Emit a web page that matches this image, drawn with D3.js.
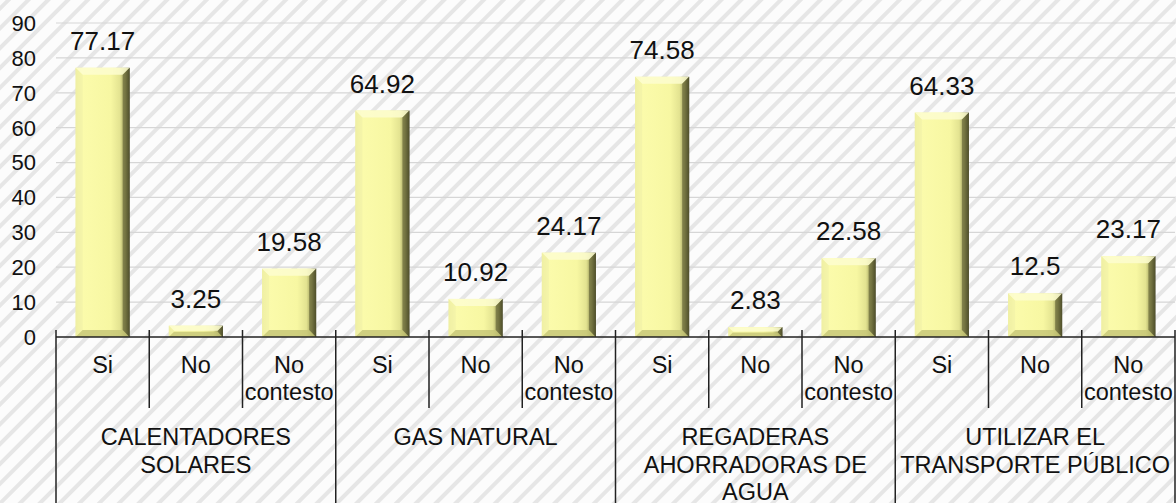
<!DOCTYPE html>
<html>
<head>
<meta charset="utf-8">
<script src="https://cdn.jsdelivr.net/npm/d3@7"></script>
<style>
  body { margin: 0; background: #fff; }
  svg { display: block; font-family: Arial, "Liberation Sans", sans-serif; }
</style>
</head>
<body>
<div id="chart"></div>
<script>
// data
const groupLabels = [["CALENTADORES", "SOLARES"], ["GAS NATURAL"], ["REGADERAS", "AHORRADORAS DE", "AGUA"], ["UTILIZAR EL", "TRANSPORTE PÚBLICO"]];
const answerLabels = [["Si"], ["No"], ["No", "contesto"]];
const values = [
  [77.17, 3.25, 19.58],
  [64.92, 10.92, 24.17],
  [74.58, 2.83, 22.58],
  [64.33, 12.5, 23.17]
];
const yTicks = [0, 10, 20, 30, 40, 50, 60, 70, 80, 90];

const W = 1176, H = 503;
const left = 56, right = 1175, y0 = 337, yTop = 23;

const svg = d3.select("#chart").append("svg")
  .attr("width", W).attr("height", H);

const defs = svg.append("defs");

// diagonal hatch background, soft grey stripes
const blur = defs.append("filter").attr("id", "soft");
blur.append("feGaussianBlur").attr("stdDeviation", 1);

const pat = defs.append("pattern")
  .attr("id", "hatch")
  .attr("patternUnits", "userSpaceOnUse")
  .attr("width", 14).attr("height", 14)
  .attr("patternTransform", "rotate(45)");
pat.append("rect").attr("width", 14).attr("height", 14).attr("fill", "#fcfcfc");
pat.append("rect").attr("x", 4).attr("width", 4).attr("height", 14).attr("fill", "#e6e6e6");

svg.append("rect").attr("width", W).attr("height", H).attr("fill", "url(#hatch)");

// bar gradient
const grad = defs.append("linearGradient").attr("id", "barGrad")
  .attr("x1", "0").attr("x2", "1").attr("y1", "0").attr("y2", "0");
[[0, "#efef9c"], [0.12, "#fbfbab"], [0.65, "#f7f7a2"], [0.82, "#e3e391"], [0.92, "#9e9e5c"], [1, "#3c3c22"]]
  .forEach(([o, c]) => grad.append("stop").attr("offset", o).attr("stop-color", c));

const flat = [];
values.forEach((row, gi) => row.forEach((v, ai) => flat.push({ gi, ai, v, key: gi + "-" + ai })));

const x = d3.scaleBand().domain(flat.map(d => d.key)).range([left, right]).padding(0);
const y = d3.scaleLinear().domain([0, 90]).range([y0, yTop]);

// gridlines
svg.append("g").selectAll("line").data(yTicks.slice(1)).join("line")
  .attr("x1", left).attr("x2", right)
  .attr("y1", d => y(d)).attr("y2", d => y(d))
  .attr("stroke", "#d6d6d6").attr("stroke-width", 1.2);

// y tick labels
svg.append("g").selectAll("text").data(yTicks).join("text")
  .attr("x", 36).attr("y", d => y(d)).attr("dy", "0.36em")
  .attr("text-anchor", "end").attr("font-size", 22).attr("fill", "#111")
  .text(d => d);

// bars
const bw = x.bandwidth() * 0.58;
const bars = svg.append("g").selectAll("g").data(flat).join("g")
  .attr("transform", d => `translate(${x(d.key) + (x.bandwidth() - bw) / 2},0)`);

bars.each(function (d) {
  const g = d3.select(this);
  const top = y(d.v), bot = y(0), h = bot - top;
  const b = Math.min(7, h / 2.2);
  g.append("rect").attr("x", 0).attr("y", top).attr("width", bw).attr("height", h)
    .attr("fill", "url(#barGrad)");
  // top bevel
  g.append("polygon")
    .attr("points", [[0, top], [bw, top], [bw - b, top + b], [b, top + b]].join(" "))
    .attr("fill", "#fdfdd0").attr("opacity", 0.85);
  // left bevel
  g.append("polygon")
    .attr("points", [[0, top], [b, top + b], [b, bot - b], [0, bot]].join(" "))
    .attr("fill", "#f0f0a8").attr("opacity", 0.6);
  // bottom bevel
  g.append("polygon")
    .attr("points", [[0, bot], [b, bot - b], [bw - b, bot - b], [bw, bot]].join(" "))
    .attr("fill", "#c4c476").attr("opacity", 0.8);
  // right bevel
  g.append("polygon")
    .attr("points", [[bw, top], [bw, bot], [bw - b, bot - b], [bw - b, top + b]].join(" "))
    .attr("fill", "#5a5a30").attr("opacity", 0.6);
});

// value labels
svg.append("g").selectAll("text").data(flat).join("text")
  .attr("x", d => x(d.key) + x.bandwidth() / 2)
  .attr("y", d => y(d.v) - 18)
  .attr("text-anchor", "middle").attr("font-size", 26).attr("fill", "#111")
  .text(d => d.v);

// axis line
const axis = svg.append("g").attr("stroke", "#222").attr("stroke-width", 1.5);
axis.append("line").attr("x1", left).attr("x2", right).attr("y1", y0).attr("y2", y0);

// separators
const bounds = flat.map(d => x(d.key)).concat([right]);
axis.selectAll("line.sep").data(bounds).join("line").attr("class", "sep")
  .attr("x1", d => d).attr("x2", d => d)
  .attr("y1", y0 - 7)
  .attr("y2", (d, i) => (i % 3 === 0 ? H : 408));

// answer labels
const lab = svg.append("g").attr("font-size", 23.5).attr("fill", "#111").attr("text-anchor", "middle");
flat.forEach(d => {
  const t = lab.append("text").attr("x", x(d.key) + x.bandwidth() / 2);
  answerLabels[d.ai].forEach((s, i) => t.append("tspan")
    .attr("x", x(d.key) + x.bandwidth() / 2).attr("y", 373 + i * 27).text(s));
});

// group labels
groupLabels.forEach((lines, gi) => {
  const cx = (x(gi + "-0") + x(gi + "-2") + x.bandwidth()) / 2;
  const t = lab.append("text");
  lines.forEach((s, i) => t.append("tspan").attr("x", cx).attr("y", 445 + i * 27.5).text(s));
});
</script>
</body>
</html>
